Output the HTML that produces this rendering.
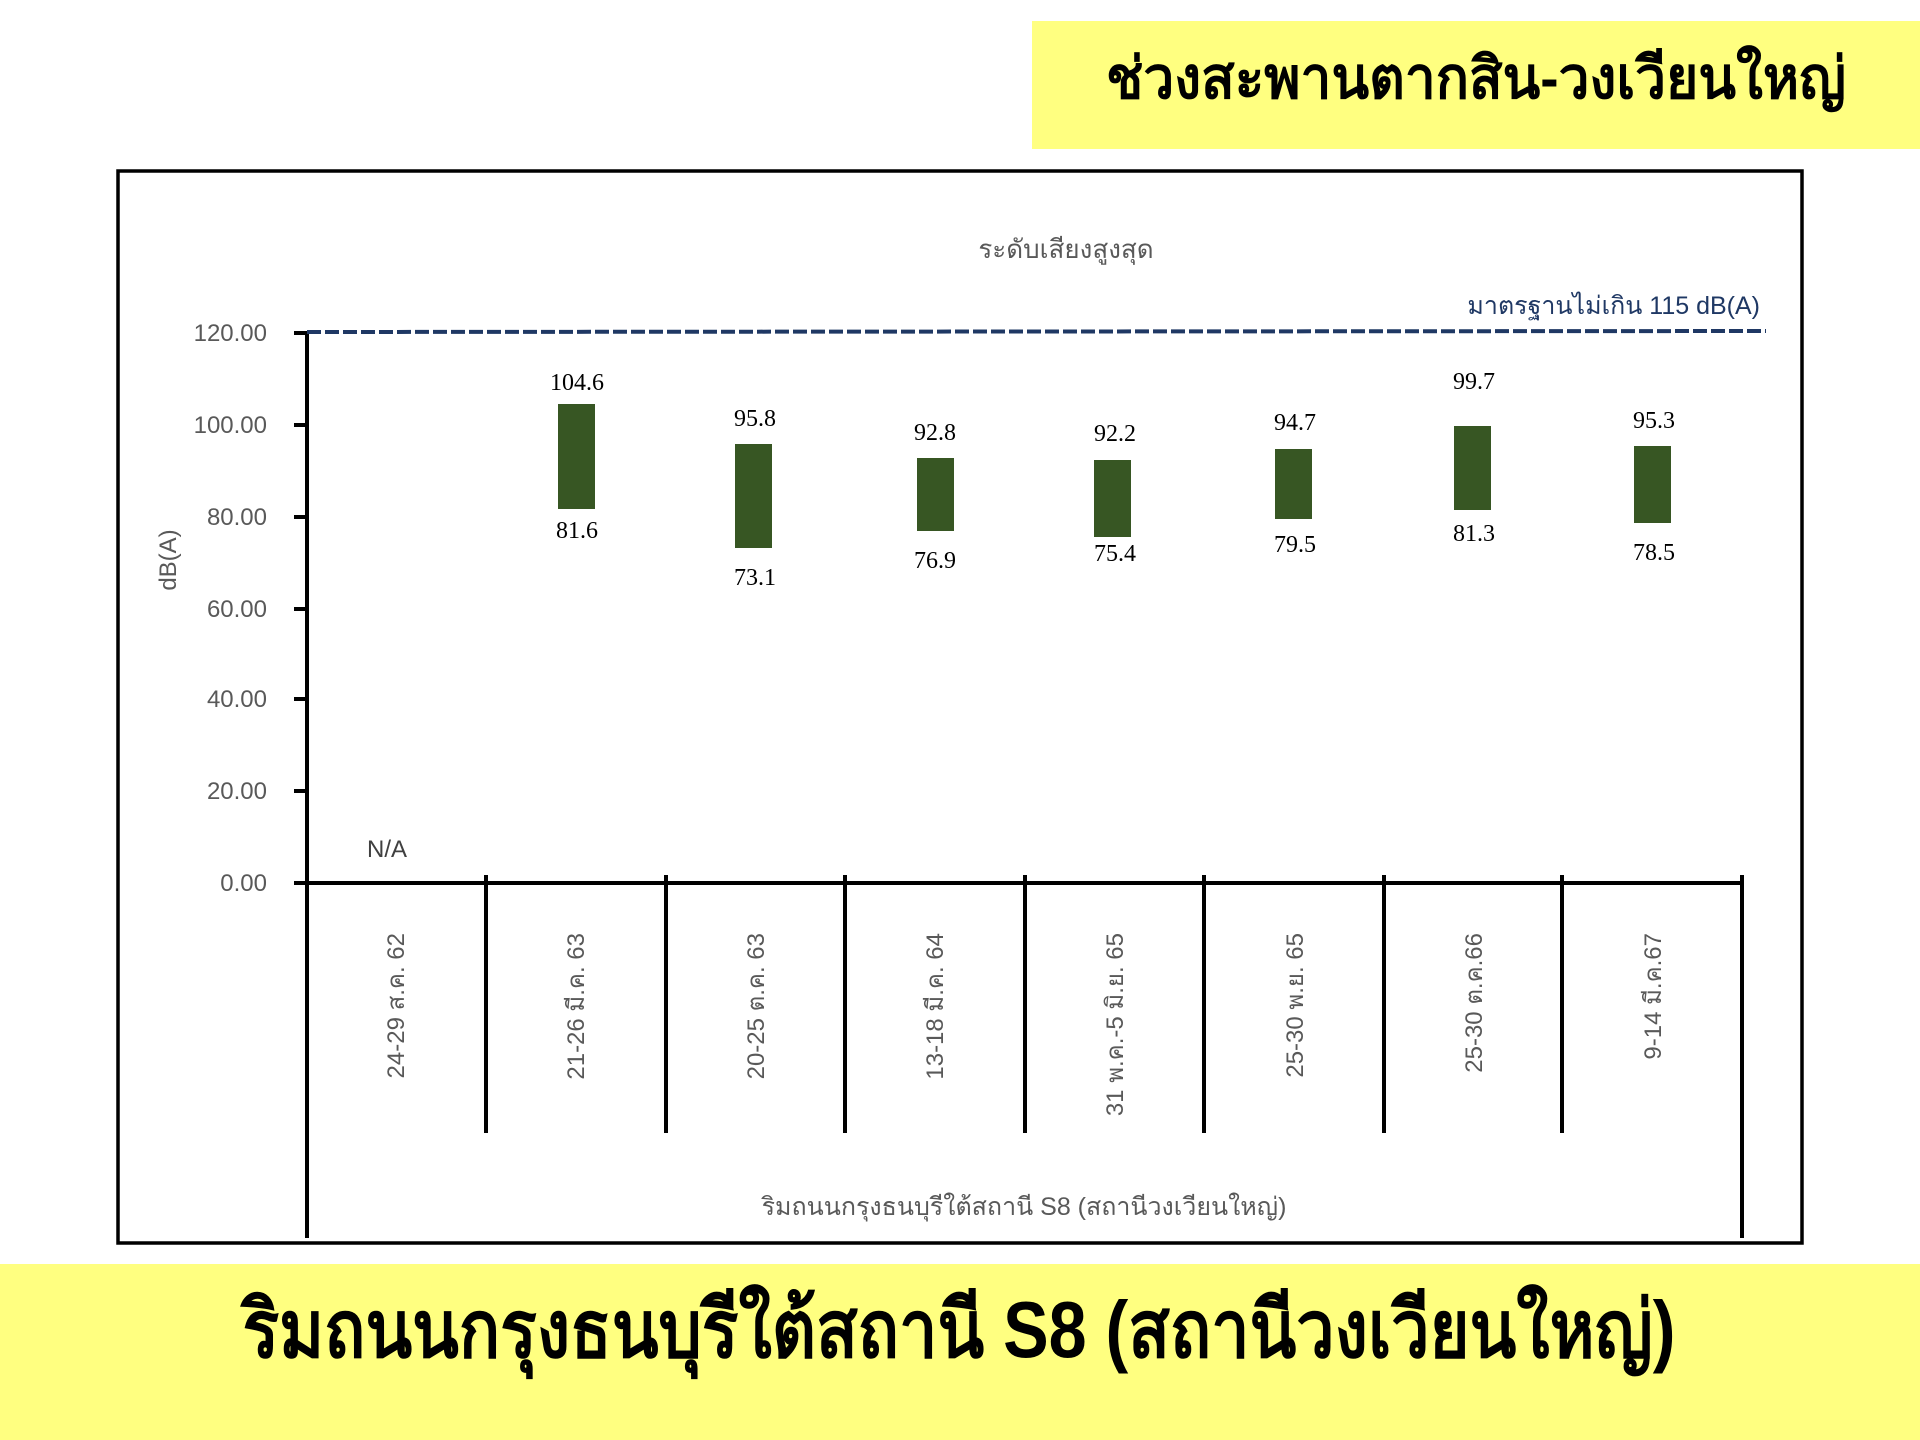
<!DOCTYPE html>
<html><head><meta charset="utf-8"><style>
html,body{margin:0;padding:0;background:#fff;}
svg{display:block;}
</style></head><body>
<svg width="1920" height="1440" viewBox="0 0 1920 1440" xmlns="http://www.w3.org/2000/svg">
<rect width="1920" height="1440" fill="#fff"/>
<rect x="1032" y="21" width="888" height="128" fill="#FFFF80"/>
<text x="1476" y="98" text-anchor="middle" textLength="740" lengthAdjust="spacingAndGlyphs" font-family="Liberation Sans, Noto Sans CJK SC, sans-serif" font-weight="bold" font-size="58" fill="#000">ช่วงสะพานตากสิน-วงเวียนใหญ่</text>
<rect x="0" y="1264" width="1920" height="176" fill="#FFFF80"/>
<text x="959" y="1357" text-anchor="middle" textLength="1433" lengthAdjust="spacingAndGlyphs" font-family="Liberation Sans, Noto Sans CJK SC, sans-serif" font-weight="bold" font-size="80" fill="#000">ริมถนนกรุงธนบุรีใต้สถานี S8 (สถานีวงเวียนใหญ่)</text>
<rect x="118" y="171" width="1684" height="1072" fill="none" stroke="#000" stroke-width="3.5"/>
<text x="1066" y="258" text-anchor="middle" font-family="Liberation Sans, Noto Sans CJK SC, sans-serif" font-size="26" fill="#595959">ระดับเสียงสูงสุด</text>
<g font-family="Liberation Sans, sans-serif" font-size="24" fill="#595959" text-anchor="end">
<text x="267" y="341">120.00</text><text x="267" y="433">100.00</text><text x="267" y="525">80.00</text><text x="267" y="617">60.00</text><text x="267" y="707">40.00</text><text x="267" y="799">20.00</text><text x="267" y="891">0.00</text>
</g>
<text transform="translate(176,560) rotate(-90)" text-anchor="middle" font-family="Liberation Sans, sans-serif" font-size="24" fill="#595959">dB(A)</text>
<g stroke="#000" stroke-width="4">
<line x1="307" y1="331" x2="307" y2="1238"/>
<line x1="294" y1="333" x2="307" y2="333"/><line x1="294" y1="425" x2="307" y2="425"/><line x1="294" y1="517" x2="307" y2="517"/><line x1="294" y1="609" x2="307" y2="609"/><line x1="294" y1="699" x2="307" y2="699"/><line x1="294" y1="791" x2="307" y2="791"/>
<line x1="294" y1="883" x2="1744" y2="883"/>
<line x1="1742" y1="875" x2="1742" y2="1238"/>
<line x1="486" y1="875" x2="486" y2="1133"/><line x1="666" y1="875" x2="666" y2="1133"/><line x1="845" y1="875" x2="845" y2="1133"/><line x1="1025" y1="875" x2="1025" y2="1133"/><line x1="1204" y1="875" x2="1204" y2="1133"/><line x1="1384" y1="875" x2="1384" y2="1133"/><line x1="1562" y1="875" x2="1562" y2="1133"/>
</g>
<line x1="307" y1="332" x2="1766" y2="331" stroke="#1F3864" stroke-width="4" stroke-dasharray="14,4"/>
<text x="1760" y="314" text-anchor="end" font-family="Liberation Sans, Noto Sans CJK SC, sans-serif" font-size="25" fill="#1F3864">มาตรฐานไม่เกิน 115 dB(A)</text>
<text x="367" y="857" font-family="Liberation Sans, sans-serif" font-size="24" fill="#404040">N/A</text>
<g fill="#375623">
<rect x="558" y="404" width="37" height="105"/>
<rect x="735" y="444" width="37" height="104"/>
<rect x="917" y="458" width="37" height="73"/>
<rect x="1094" y="460" width="37" height="77"/>
<rect x="1275" y="449" width="37" height="70"/>
<rect x="1454" y="426" width="37" height="84"/>
<rect x="1634" y="446" width="37" height="77"/>
</g>
<g font-family="Liberation Serif, serif" font-size="24" fill="#000" text-anchor="middle">
<text x="577" y="390">104.6</text><text x="577" y="538">81.6</text>
<text x="755" y="426">95.8</text><text x="755" y="585">73.1</text>
<text x="935" y="440">92.8</text><text x="935" y="568">76.9</text>
<text x="1115" y="441">92.2</text><text x="1115" y="561">75.4</text>
<text x="1295" y="430">94.7</text><text x="1295" y="552">79.5</text>
<text x="1474" y="389">99.7</text><text x="1474" y="541">81.3</text>
<text x="1654" y="428">95.3</text><text x="1654" y="560">78.5</text>
</g>
<g font-family="Liberation Sans, Noto Sans CJK SC, sans-serif" font-size="24" fill="#595959" text-anchor="end">
<text transform="translate(404,933) rotate(-90)">24-29 ส.ค. 62</text>
<text transform="translate(584,933) rotate(-90)">21-26 มี.ค. 63</text>
<text transform="translate(764,933) rotate(-90)">20-25 ต.ค. 63</text>
<text transform="translate(943,933) rotate(-90)">13-18 มี.ค. 64</text>
<text transform="translate(1123,933) rotate(-90)">31 พ.ค.-5 มิ.ย. 65</text>
<text transform="translate(1303,933) rotate(-90)">25-30 พ.ย. 65</text>
<text transform="translate(1482,933) rotate(-90)">25-30 ต.ค.66</text>
<text transform="translate(1661,933) rotate(-90)">9-14 มี.ค.67</text>
</g>
<text x="1024" y="1215" text-anchor="middle" font-family="Liberation Sans, Noto Sans CJK SC, sans-serif" font-size="25" fill="#595959">ริมถนนกรุงธนบุรีใต้สถานี S8 (สถานีวงเวียนใหญ่)</text>
</svg>
</body></html>
